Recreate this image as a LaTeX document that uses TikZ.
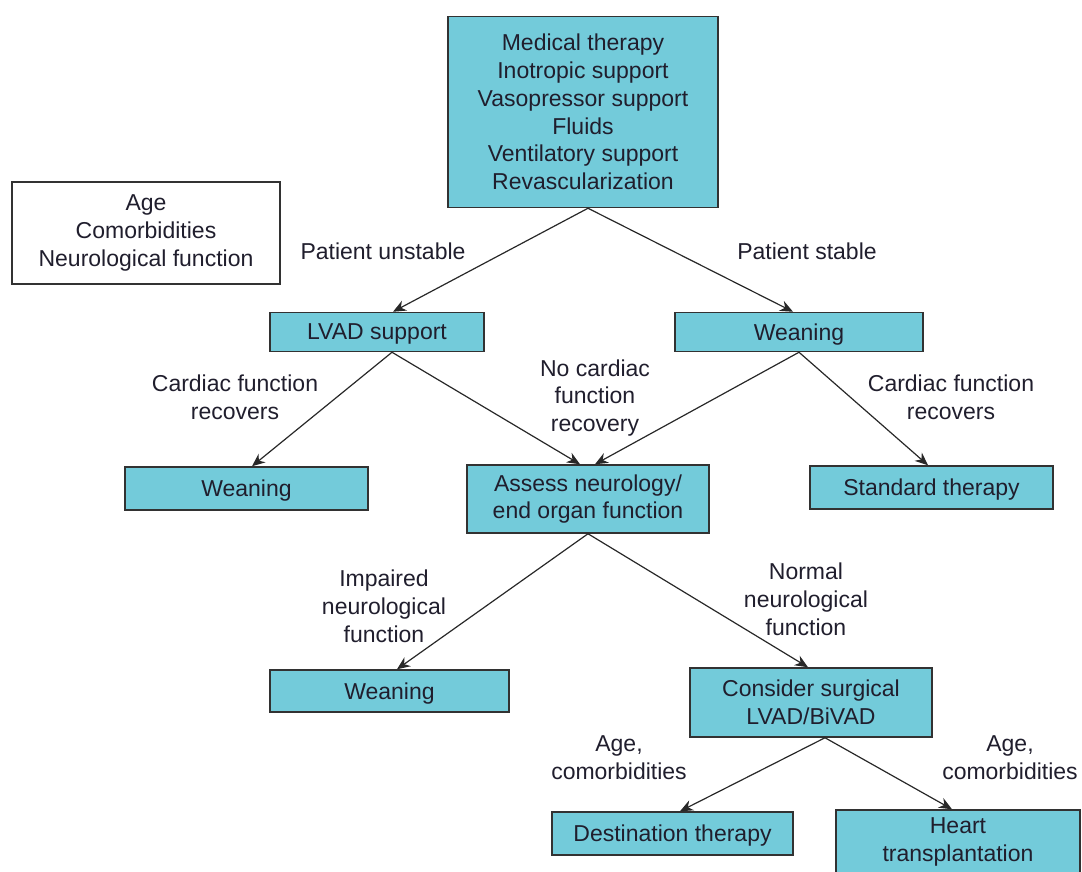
\documentclass[tikz,border=0pt]{standalone}
\usepackage{fontspec}
\setmainfont{Liberation Sans}
\usepackage{tikz}
\usetikzlibrary{arrows.meta, positioning}
\usepackage{xcolor}
\definecolor{boxcyan}{RGB}{115, 203, 218}
\definecolor{borderdark}{RGB}{50, 50, 50}
\definecolor{textdark}{RGB}{32, 30, 45}
\definecolor{linedark}{RGB}{40, 40, 40}
\tikzset{
    % Cyan step boxes
    step box/.style={
        rectangle, draw=borderdark, line width=0.75pt, fill=boxcyan,
        inner sep=0pt, align=center, text=textdark,
        font=\fontsize{11.5}{13.9}\selectfont
    },
    % One-line boxes (text sits on the middle)
    line box/.style={
        step box, text depth=0pt
    },
    % Factor box (white)
    factor box/.style={
        step box, fill=white
    },
    % Branch labels
    branch label/.style={
        align=center, text=textdark, inner sep=0pt,
        font=\fontsize{11.5}{13.9}\selectfont
    },
    % Arrows
    flow arrow/.style={
        -{Stealth[length=6.5pt, width=5.5pt]}, line width=0.6pt, color=linedark
    }
}
\begin{document}
\begin{tikzpicture}[x=0.5pt, y=-0.5pt]

    \useasboundingbox (0, 0) rectangle (1082, 872);

    % ======== INITIAL MANAGEMENT ========
    \node[step box, minimum width=135pt, minimum height=95.5pt] (therapy) at (583, 112)
        {Medical therapy\\Inotropic support\\Vasopressor support\\Fluids\\Ventilatory support\\Revascularization};

    \node[factor box, minimum width=134pt, minimum height=51pt] (factors) at (146, 233)
        {Age\\Comorbidities\\Neurological function};

    % ======== FIRST BRANCH ========
    \node[branch label] (unstable) at (383, 251) {Patient unstable};
    \node[branch label] (stable) at (807, 251) {Patient stable};

    \node[line box, minimum width=107pt, minimum height=19.5pt] (lvad) at (377, 332) {LVAD support};
    \node[line box, minimum width=124pt, minimum height=19.5pt] (weanstable) at (799, 332) {Weaning};

    \draw[flow arrow] ([xshift=2.5pt]therapy.south) -- ([xshift=8pt]lvad.north);
    \draw[flow arrow] ([xshift=2.5pt]therapy.south) -- ([xshift=-3pt]weanstable.north);

    % ======== SECOND BRANCH ========
    \node[branch label] (recoversleft) at (235, 397) {Cardiac function\\recovers};
    \node[branch label] (norecovery) at (595, 398) {No cardiac\\function\\recovery};
    \node[branch label] (recoversright) at (951, 397) {Cardiac function\\recovers};

    \node[line box, minimum width=121.5pt, minimum height=21.5pt] (weanlvad) at (246.5, 488.5) {Weaning};
    \node[step box, minimum width=121pt, minimum height=34pt] (assess) at (588, 499)
        {Assess neurology/\\end organ function};
    \node[line box, minimum width=121.5pt, minimum height=21.5pt] (standard) at (931.5, 487.5) {Standard therapy};

    \draw[flow arrow] ([xshift=7.5pt]lvad.south) -- ([xshift=2.75pt]weanlvad.north);
    \draw[flow arrow] ([xshift=7.5pt]lvad.south) -- ([xshift=-4pt]assess.north);
    \draw[flow arrow] (weanstable.south) -- ([xshift=3.5pt]assess.north);
    \draw[flow arrow] (weanstable.south) -- ([xshift=-1.75pt]standard.north);

    % ======== NEUROLOGY BRANCH ========
    \node[branch label] (impaired) at (384, 606) {Impaired\\neurological\\function};
    \node[branch label] (normal) at (806, 599) {Normal\\neurological\\function};

    \node[line box, minimum width=119.5pt, minimum height=21pt] (weanneuro) at (389.5, 691) {Weaning};
    \node[step box, minimum width=121pt, minimum height=34.5pt] (surgical) at (811, 702.5)
        {Consider surgical\\LVAD/BiVAD};

    \draw[flow arrow] (assess.south) -- ([xshift=3.75pt]weanneuro.north);
    \draw[flow arrow] (assess.south) -- ([xshift=-1.5pt]surgical.north);

    % ======== FINAL OUTCOMES ========
    \node[branch label] (ageleft) at (619, 758) {Age,\\comorbidities};
    \node[branch label] (ageright) at (1010, 758) {Age,\\comorbidities};

    \node[line box, minimum width=120.5pt, minimum height=21.5pt] (destination) at (672.5, 833.5) {Destination therapy};
    \node[step box, minimum width=122pt, minimum height=32pt] (transplant) at (958, 842)
        {Heart\\transplantation};

    \draw[flow arrow] ([xshift=7pt]surgical.south) -- ([xshift=3.75pt]destination.north);
    \draw[flow arrow] ([xshift=7pt]surgical.south) -- ([xshift=-3pt]transplant.north);

\end{tikzpicture}
\end{document}
